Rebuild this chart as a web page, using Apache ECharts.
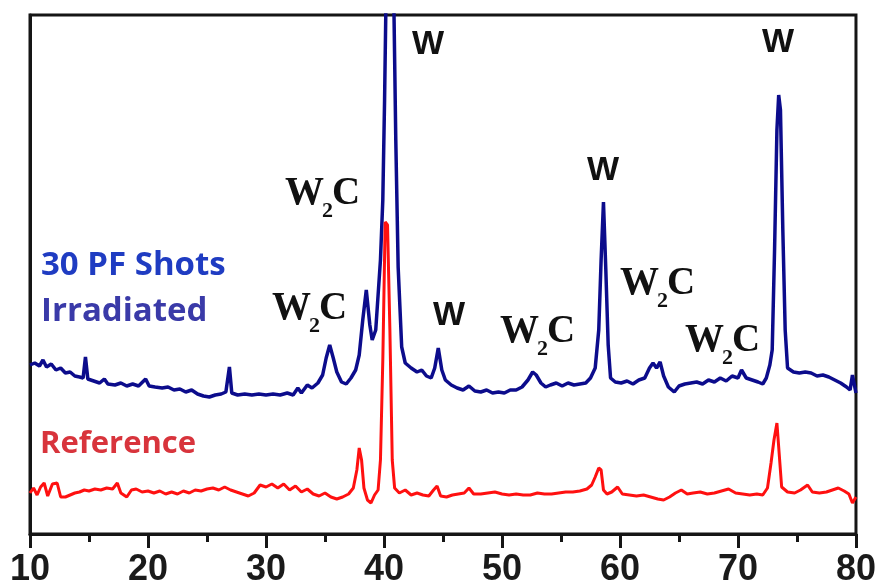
<!DOCTYPE html>
<html>
<head>
<meta charset="utf-8">
<script src="https://cdn.jsdelivr.net/npm/echarts@6/dist/echarts.min.js"></script>
<style>html,body{margin:0;padding:0;background:#fff}#c{width:879px;height:588px}</style>
</head>
<body>
<div id="c"></div>
<script>
// x ticks
const xTicks = [10, 20, 30, 40, 50, 60, 70, 80];
// 2-theta positions and intensities (arbitrary units) of the irradiated sample
const irradX = [10.0,10.4,10.8,11.1,11.4,11.8,12.2,12.6,13.0,13.4,13.8,14.2,14.5,14.7,14.9,15.4,15.9,16.3,16.6,17.2,17.7,18.2,18.7,19.2,19.8,20.1,20.6,21.2,21.7,22.2,22.7,23.2,23.7,24.2,24.7,25.2,25.7,26.2,26.6,26.9,27.1,27.6,28.2,28.8,29.4,30.0,30.6,31.2,31.8,32.3,32.7,33.0,33.5,33.9,34.4,34.8,35.1,35.4,35.7,36.0,36.4,36.8,37.2,37.6,37.9,38.2,38.5,38.8,39.0,39.3,39.5,39.7,39.9,40.05,40.2,40.5,40.8,41.0,41.2,41.5,41.8,42.3,42.8,43.2,43.6,44.0,44.3,44.6,44.9,45.2,45.7,46.2,46.7,47.2,47.7,48.2,48.7,49.2,49.7,50.2,50.7,51.2,51.7,52.2,52.6,52.9,53.3,53.7,54.1,54.6,55.1,55.6,56.1,56.6,57.1,57.5,57.9,58.2,58.4,58.6,58.8,59.0,59.2,59.6,60.1,60.6,61.1,61.6,62.1,62.5,62.8,63.1,63.4,63.7,64.1,64.6,65.0,65.5,66.0,66.5,67.0,67.5,68.0,68.5,69.0,69.5,70.0,70.3,70.7,71.2,71.7,72.1,72.4,72.7,72.9,73.1,73.3,73.45,73.6,73.8,74.0,74.2,74.7,75.2,75.7,76.2,76.7,77.2,77.7,78.2,78.7,79.2,79.5,79.7,80.0];
const irradY = [169,171,168,174,167,170,164,166,161,162,158,157,156,177,155,153,151,155,150,149,151,148,150,148,155,148,147,146,147,144,145,142,144,140,138,137,139,140,142,167,141,139,140,139,140,139,140,139,141,139,146,141,149,146,151,159,176,189,176,162,152,150,156,164,179,214,244,209,194,204,239,274,334,434,560,580,560,394,267,187,171,166,162,164,158,156,166,186,164,154,149,146,144,148,143,142,144,141,142,141,144,144,147,154,162,159,151,147,149,151,148,151,149,150,151,156,166,204,274,332,264,189,156,152,151,153,150,154,156,166,171,166,172,158,147,142,148,150,151,152,150,154,152,156,153,158,156,164,156,154,152,150,156,169,184,284,404,439,424,304,204,166,162,161,162,161,158,159,157,154,151,147,144,159,141];
// reference sample
const refX = [10.0,10.3,10.6,10.9,11.2,11.5,11.9,12.3,12.6,13.0,13.4,13.8,14.2,14.6,15.0,15.5,16.0,16.5,17.0,17.4,17.7,18.2,18.6,19.0,19.5,20.0,20.5,21.0,21.5,22.0,22.5,23.0,23.5,24.0,24.5,25.0,25.5,26.0,26.5,27.0,27.5,28.0,28.5,29.0,29.5,30.0,30.5,31.0,31.5,32.0,32.5,33.0,33.5,34.0,34.5,35.0,35.5,36.0,36.5,37.0,37.4,37.7,37.9,38.1,38.3,38.6,38.9,39.2,39.5,39.7,39.9,40.1,40.3,40.5,40.7,40.9,41.3,41.8,42.3,42.8,43.3,43.8,44.2,44.5,44.8,45.3,45.8,46.3,46.8,47.2,47.6,48.2,48.8,49.4,50.0,50.6,51.2,51.8,52.4,53.0,53.6,54.2,54.8,55.4,56.0,56.6,57.2,57.6,57.9,58.2,58.4,58.6,58.9,59.3,59.8,60.2,60.8,61.4,62.0,62.6,63.2,63.7,64.2,64.7,65.2,65.7,66.2,66.8,67.4,68.0,68.6,69.2,69.8,70.4,71.0,71.6,72.1,72.5,72.8,73.05,73.3,73.5,73.7,74.2,74.8,75.3,75.9,76.3,76.9,77.5,78.0,78.5,79.0,79.4,79.7,80.0];
const refY = [41,46,39,47,51,38,50,51,37,37,39,41,42,44,43,45,44,46,45,51,41,37,44,45,42,43,41,43,40,42,40,43,41,44,43,45,46,44,47,44,42,40,38,41,49,47,50,46,50,44,48,42,45,40,38,41,37,35,37,40,46,64,86,74,46,34,31,39,44,74,174,312,309,204,74,46,41,44,39,41,39,38,44,48,38,37,39,40,41,46,40,40,41,42,40,39,40,39,39,41,40,40,41,42,42,43,45,49,57,66,64,44,40,42,47,40,39,38,39,37,35,34,37,41,44,40,41,42,40,41,43,45,41,40,39,40,39,46,71,94,111,79,47,42,41,44,49,42,41,42,44,46,43,40,31,37];

const zip = (xs, ys) => xs.map((x, i) => [x, ys[i]]);

function hasFont(name) {
  const ctx = document.createElement('canvas').getContext('2d');
  const probe = '1080 WWW mmm';
  ctx.font = 'bold 40px monospace';
  const a = ctx.measureText(probe).width;
  ctx.font = "bold 40px '" + name + "', monospace";
  return Math.abs(ctx.measureText(probe).width - a) > 0.5;
}
const narrow = hasFont('Liberation Sans Narrow');
const tickFont = narrow ? "'Liberation Sans Narrow', sans-serif" : "'Liberation Sans', Arial, sans-serif";
const tickSize = narrow ? 37 : 36;

const chart = echarts.init(document.getElementById('c'), null, {renderer: 'canvas'});

const sans = "'Liberation Sans', Arial, sans-serif";
const open = "'Open Sans', 'Liberation Sans', sans-serif";
const serif = "'Liberation Serif', 'Times New Roman', serif";
const serifStyle = (t, size) => ({text: t, fontFamily: serif, fontWeight: 'bold', fontSize: size, fill: '#111', verticalAlign: 'top', align: 'left'});
const w2c = (left, top) => ({
  type: 'group', left: left, top: top, z: 10,
  children: [
    {type: 'text', x: 0, y: 0, style: serifStyle('W', 39)},
    {type: 'text', x: 37, y: 26, style: serifStyle('2', 22)},
    {type: 'text', x: 47, y: 0, style: serifStyle('C', 39)}
  ]
});
const wLab = (left, top) => ({
  type: 'text', left: left, top: top, z: 10,
  style: {text: 'W', fontFamily: sans, fontWeight: 'bold', fontSize: 34, fill: '#111'}
});

chart.setOption({
  backgroundColor: '#ffffff',
  animation: false,
  grid: {left: 30, right: 21, top: 15, bottom: 54, show: true, borderColor: '#151515', borderWidth: 3, backgroundColor: 'transparent'},
  xAxis: {
    type: 'value', min: xTicks[0], max: xTicks[xTicks.length - 1], interval: 10,
    axisLine: {show: true, onZero: false, lineStyle: {color: '#151515', width: 3}},
    axisTick: {show: true, inside: false, length: 14, lineStyle: {color: '#151515', width: 3}},
    minorTick: {show: true, splitNumber: 2, length: 8, lineStyle: {color: '#151515', width: 3}},
    splitLine: {show: false},
    axisLabel: {show: true, margin: 18, color: '#1a1a1a', fontSize: tickSize, fontWeight: 'bold', fontFamily: tickFont}
  },
  yAxis: {
    type: 'value', min: 0, max: 519,
    axisLine: {show: true, lineStyle: {color: '#151515', width: 3}},
    axisTick: {show: false}, axisLabel: {show: false}, splitLine: {show: false}
  },
  series: [
    {name: '30 PF Shots Irradiated', type: 'line', data: zip(irradX, irradY), showSymbol: false, symbol: 'none',
      lineStyle: {color: '#0c0c8c', width: 3.5}, clip: true, z: 2},
    {name: 'Reference', type: 'line', data: zip(refX, refY), showSymbol: false, symbol: 'none',
      lineStyle: {color: '#ff1010', width: 3}, clip: true, z: 3}
  ],
  graphic: [
    {type: 'text', left: 41, top: 249, style: {text: '30 PF Shots', fontFamily: open, fontWeight: 'bold', fontSize: 33, fill: '#1f3cc2'}},
    {type: 'text', left: 41, top: 295, style: {text: 'Irradiated', fontFamily: open, fontWeight: 'bold', fontSize: 33, fill: '#3a3aa8'}},
    {type: 'text', left: 40, top: 429, style: {text: 'Reference', fontFamily: open, fontWeight: 'bold', fontSize: 31, fill: '#d8343c'}},
    w2c(285, 174),
    w2c(272, 289),
    w2c(500, 312),
    w2c(620, 264),
    w2c(685, 321),
    wLab(412, 28),
    wLab(433, 299),
    wLab(587, 154),
    wLab(762, 26)
  ]
});
</script>
</body>
</html>
